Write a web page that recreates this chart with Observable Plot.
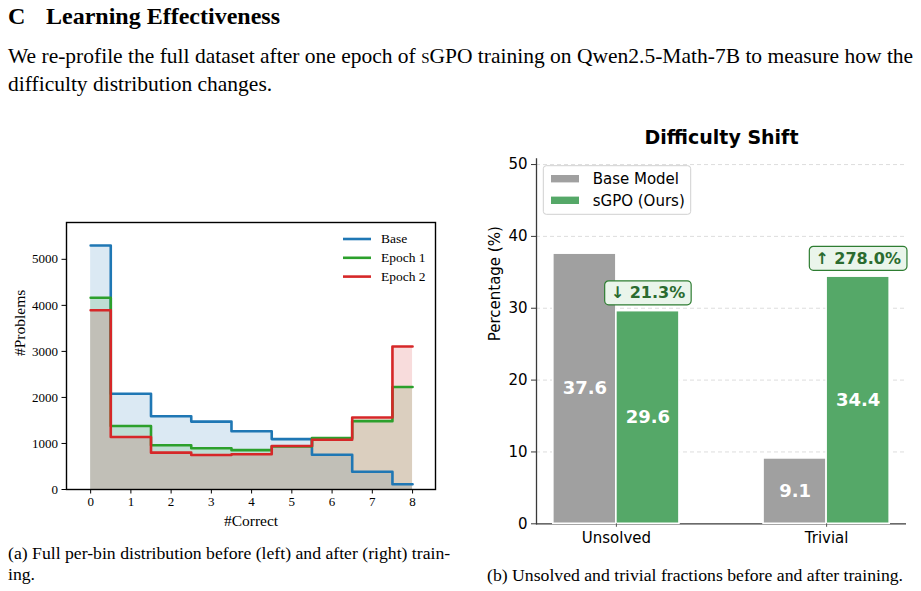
<!DOCTYPE html>
<html>
<head>
<meta charset="utf-8">
<script src="https://cdn.jsdelivr.net/npm/d3@7"></script>
<script src="https://cdn.jsdelivr.net/npm/@observablehq/plot@0.6"></script>
<style>
  html, body { margin: 0; padding: 0; background: #fff; }
  body { position: relative; width: 921px; height: 591px; overflow: hidden; }
  .serif { font-family: "Liberation Serif", "Times New Roman", serif; color: #000; }
  .abs { position: absolute; white-space: nowrap; line-height: 1; }
  .sc { font-variant: small-caps; }
  #left { position: absolute; left: 0; top: 200px; }
  #right { position: absolute; left: 480px; top: 120px; }
</style>
</head>
<body>
<div class="abs serif" style="left:8px; top:4px; font-size:24px; font-weight:bold;">C</div>
<div class="abs serif" style="left:46px; top:4px; font-size:24px; font-weight:bold;">Learning Effectiveness</div>
<div class="abs serif" style="left:8px; top:45.5px; font-size:21.5px;">We re-profile the full dataset after one epoch of <span class="sc">s</span>GPO training on Qwen2.5-Math-7B to measure how the</div>
<div class="abs serif" style="left:8px; top:73.5px; font-size:21.5px;">difficulty distribution changes.</div>
<div id="left"></div>
<div id="right"></div>
<div class="abs serif" style="left:8px; top:544.6px; font-size:17.7px;">(a) Full per-bin distribution before (left) and after (right) train-</div>
<div class="abs serif" style="left:8px; top:565.6px; font-size:17.7px;">ing.</div>
<div class="abs serif" style="left:487px; top:566.6px; font-size:17.7px;">(b) Unsolved and trivial fractions before and after training.</div>

<script>
// ---- Per-bin distribution: number of problems by #correct rollouts (out of 8)
const bins = [0, 1, 2, 3, 4, 5, 6, 7, 8];
const baseCounts   = [5300, 2080, 1590, 1475, 1265, 1095, 755, 385, 115];
const epoch1Counts = [4165, 1380, 960, 895, 855, 935, 1120, 1485, 2225];
const epoch2Counts = [3895, 1140, 800, 750, 765, 945, 1080, 1565, 3105];
const seriesNames  = ["Base", "Epoch 1", "Epoch 2"];
const seriesColors = ["#1f77b4", "#2ca02c", "#d62728"];
const countTicks   = [0, 1000, 2000, 3000, 4000, 5000];

// ---- Difficulty shift: share of unsolved / trivial problems (%)
const categories  = ["Unsolved", "Trivial"];
const models      = ["Base Model", "sGPO (Ours)"];
const baseValues  = [37.6, 9.1];
const sgpoValues  = [29.6, 34.4];
const modelColors = ["#a0a0a0", "#55a868"];
const pctTicks    = [0, 10, 20, 30, 40, 50];

// ================= Left panel: step histogram =================
const counts = [baseCounts, epoch1Counts, epoch2Counts];
const rows = counts.flatMap((arr, s) => arr.map((c, i) => ({bin: bins[i], count: c, series: seriesNames[s]})));
const serifFont = '"Liberation Serif", "Times New Roman", serif';

const fills = seriesNames.map((name, s) =>
  Plot.areaY(rows.filter(r => r.series === name), {
    x: "bin", y: "count", curve: "step", fill: seriesColors[s], fillOpacity: 0.16
  }));
const lines = seriesNames.map((name, s) =>
  Plot.lineY(rows.filter(r => r.series === name), {
    x: "bin", y: "count", curve: "step", stroke: seriesColors[s], strokeWidth: 2.6
  }));

const leftPlot = Plot.plot({
  width: 460,
  height: 340,
  marginLeft: 66,
  marginRight: 25,
  marginTop: 22,
  marginBottom: 51,
  style: {fontFamily: serifFont, fontSize: "13px", color: "#000", background: "#fff", overflow: "visible"},
  x: {domain: [-0.6, 8.57]},
  y: {domain: [0, 5800]},
  marks: [
    ...fills,
    ...lines,
    Plot.frame({stroke: "#000", strokeWidth: 1.4}),
    Plot.axisX({ticks: bins, tickFormat: d => String(d), tickSize: 4.5, tickPadding: 3, label: null, fontSize: 13}),
    Plot.axisY({ticks: countTicks, tickFormat: d => String(d), tickSize: 4.5, tickPadding: 4, label: null, fontSize: 13}),
    Plot.text(["#Correct"], {frameAnchor: "bottom", dy: 32, lineAnchor: "middle", fontSize: 15.5}),
    Plot.text(["#Problems"], {frameAnchor: "left", dx: -46, rotate: -90, fontSize: 15.5})
  ]
});
document.getElementById("left").append(leftPlot);

// legend (top-right, no frame)
{
  const svg = d3.select(leftPlot);
  const g = svg.append("g").attr("font-family", serifFont).attr("font-size", 13.5).attr("text-anchor", "start");
  seriesNames.forEach((name, s) => {
    const y = 39 + s * 18.8;
    g.append("line").attr("x1", 343).attr("x2", 371).attr("y1", y).attr("y2", y)
      .attr("stroke", seriesColors[s]).attr("stroke-width", 2.6);
    g.append("text").attr("x", 381).attr("y", y).attr("dy", "0.33em").text(name);
  });
}

// ================= Right panel: grouped bars =================
const barWidth = 0.3;
const barRows = categories.flatMap((cat, i) => [
  {cat, i, model: models[0], value: baseValues[i], x1: i - barWidth, x2: i},
  {cat, i, model: models[1], value: sgpoValues[i], x1: i, x2: i + barWidth}
]);
const shifts = categories.map((cat, i) => {
  const change = (sgpoValues[i] - baseValues[i]) / baseValues[i] * 100;
  return {
    x: i + barWidth / 2,
    y: sgpoValues[i] + 2.5,
    label: (change < 0 ? "\u2193 " : "\u2191 ") + Math.abs(change).toFixed(1) + "%"
  };
});
const sansFont = '"DejaVu Sans", sans-serif';
const annotColor = "#2b6b2f";

const rightPlot = Plot.plot({
  width: 441,
  height: 440,
  marginLeft: 56,
  marginRight: 15,
  marginTop: 38.3,
  marginBottom: 36.7,
  style: {fontFamily: sansFont, fontSize: "15px", color: "#000", background: "#fff", overflow: "visible"},
  x: {type: "linear", domain: [-0.38, 1.38]},
  y: {domain: [0, 50.8]},
  color: {domain: models, range: modelColors},
  marks: [
    Plot.gridY(pctTicks.slice(1), {stroke: "#d4d4d4", strokeOpacity: 1, strokeDasharray: "4,3", strokeWidth: 0.8}),
    Plot.ruleY([0], {stroke: "#3a3a3a", strokeWidth: 1.3}),
    Plot.rectY(barRows, {x1: "x1", x2: "x2", y: "value", fill: "model", stroke: "#fff", strokeWidth: 1.6}),
    Plot.frame({anchor: "left", stroke: "#3a3a3a", strokeWidth: 1.3}),
    Plot.axisY({ticks: pctTicks, tickSize: 5, tickPadding: 4, label: null, fontSize: 15, stroke: "#3a3a3a"}),
    Plot.axisX({ticks: [0, 1], tickFormat: i => categories[i], tickSize: 3.5, tickPadding: 5.5, label: null, fontSize: 15, stroke: "#555"}),
    Plot.text(barRows, {
      x: d => (d.x1 + d.x2) / 2, y: d => d.value / 2, text: d => d.value.toFixed(1),
      fill: "#fff", fontWeight: "bold", fontSize: 18
    }),
    Plot.text(shifts, {x: "x", y: "y", text: "label", fill: annotColor, fontWeight: "bold", fontSize: 16}),
    Plot.text(["Difficulty Shift"], {frameAnchor: "top", lineAnchor: "middle", dy: -21.3, fontWeight: "bold", fontSize: 19}),
    Plot.text(["Percentage (%)"], {frameAnchor: "left", dx: -41, rotate: -90, fontSize: 15})
  ]
});
document.getElementById("right").append(rightPlot);

// rounded badges behind the change labels
const SVGNS = "http://www.w3.org/2000/svg";
d3.select(rightPlot).selectAll('g[aria-label="text"]').each(function () {
  if (this.getAttribute("fill") !== annotColor) return;
  const group = this;
  Array.from(group.querySelectorAll("text")).forEach(t => {
    const b = t.getBBox();
    const r = document.createElementNS(SVGNS, "rect");
    if (t.getAttribute("transform")) r.setAttribute("transform", t.getAttribute("transform"));
    r.setAttribute("x", b.x - 6);
    r.setAttribute("y", b.y - 2.5);
    r.setAttribute("width", b.width + 12);
    r.setAttribute("height", b.height + 5);
    r.setAttribute("rx", 4);
    r.setAttribute("fill", "#eaf5eb");
    r.setAttribute("stroke", "#2e7d32");
    r.setAttribute("stroke-width", 1.2);
    group.insertBefore(r, t);
  });
});

// legend box (upper left inside the axes)
{
  const svg = d3.select(rightPlot);
  const g = svg.append("g").attr("font-family", sansFont).attr("font-size", 15).attr("text-anchor", "start");
  g.append("rect").attr("x", 63.3).attr("y", 45.7).attr("width", 147.4).attr("height", 48.6)
    .attr("rx", 3).attr("fill", "#fff").attr("fill-opacity", 0.85)
    .attr("stroke", "#d0d0d0").attr("stroke-width", 1);
  models.forEach((name, m) => {
    const cy = 58.7 + m * 21.6;
    g.append("rect").attr("x", 71).attr("y", cy - 3.7).attr("width", 28).attr("height", 7.4)
      .attr("fill", modelColors[m]);
    g.append("text").attr("x", 112.7).attr("y", cy).attr("dy", "0.35em").text(name);
  });
}
</script>
</body>
</html>
